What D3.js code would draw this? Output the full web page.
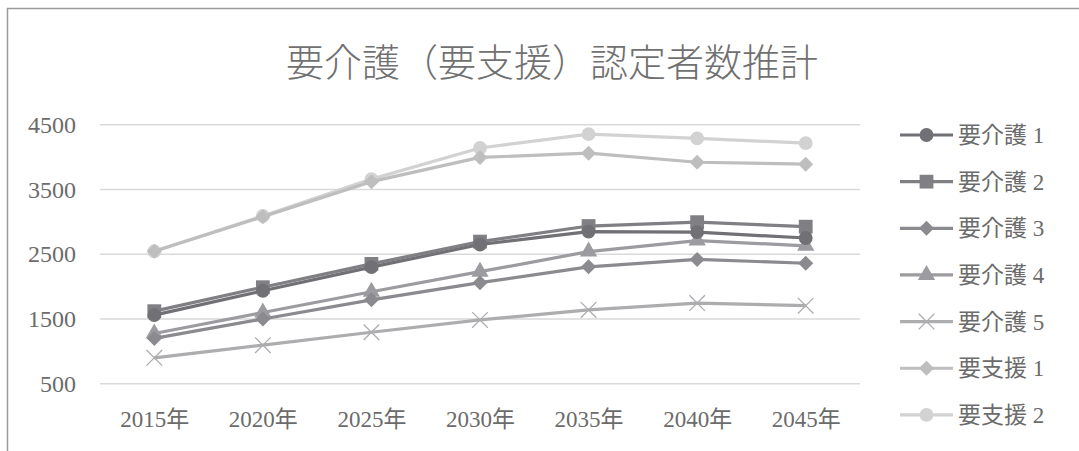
<!DOCTYPE html>
<html>
<head>
<meta charset="utf-8">
<script src="https://cdn.jsdelivr.net/npm/d3@7"></script>
<style>
  body { margin: 0; background: #fff; }
  svg text { font-family: 'Liberation Serif', 'DejaVu Serif', 'Noto Sans CJK JP', serif; fill: #6b6b6b; }
</style>
</head>
<body>
<div id="chart"></div>
<script>
var years = ['2015年', '2020年', '2025年', '2030年', '2035年', '2040年', '2045年']
var yTicks = [500, 1500, 2500, 3500, 4500]

var kaigo1 = [1560, 1935, 2300, 2650, 2850, 2840, 2750]
var kaigo2 = [1620, 1990, 2350, 2695, 2935, 2995, 2925]
var kaigo3 = [1200, 1500, 1795, 2060, 2305, 2420, 2360]
var kaigo4 = [1275, 1600, 1920, 2230, 2540, 2710, 2630]
var kaigo5 = [900, 1095, 1295, 1485, 1640, 1745, 1705]
var shien1 = [2545, 3080, 3620, 3995, 4060, 3920, 3890]
var shien2 = [2545, 3090, 3660, 4140, 4355, 4290, 4215]

var series = [
  { name: '要介護 1', values: kaigo1, color: '#717175', marker: 'circle' },
  { name: '要介護 2', values: kaigo2, color: '#808084', marker: 'square' },
  { name: '要介護 3', values: kaigo3, color: '#8b8b8f', marker: 'diamond' },
  { name: '要介護 4', values: kaigo4, color: '#9c9ca0', marker: 'triangle' },
  { name: '要介護 5', values: kaigo5, color: '#adadb0', marker: 'x' },
  { name: '要支援 1', values: shien1, color: '#bebebf', marker: 'diamond' },
  { name: '要支援 2', values: shien2, color: '#d2d2d2', marker: 'circle' }
]

var w = 1079
var h = 451

var svg = d3.select('#chart').append('svg')
  .attr('width', w)
  .attr('height', h)

// chart border
svg.append('path')
  .attr('d', 'M7.5,' + h + ' V8.5 H' + w)
  .attr('fill', 'none')
  .attr('stroke', '#9a9a9a')
  .attr('stroke-width', 1.5)

svg.append('text')
  .text('要介護（要支援）認定者数推計')
  .attr('x', 552)
  .attr('y', 63)
  .attr('dy', '0.35em')
  .attr('text-anchor', 'middle')
  .style('font-size', '38px')
  .style('font-weight', '300')
  .style('fill', '#707070')

var x = d3.scalePoint().domain(years).range([100, 860]).padding(0.5)
var y = d3.scaleLinear().domain([500, 4500]).range([383.7, 124.7])

// gridlines
svg.append('g')
  .selectAll('line')
  .data(yTicks)
  .enter().append('line')
  .attr('x1', 100)
  .attr('x2', 860)
  .attr('y1', function (d) { return y(d) })
  .attr('y2', function (d) { return y(d) })
  .attr('stroke', '#d9d9d9')
  .attr('stroke-width', 1.5)

var yAxis = svg.append('g')
  .attr('transform', 'translate(80,0)')
  .call(d3.axisLeft(y).tickValues(yTicks).tickFormat(d3.format('d')).tickSize(0).tickPadding(4))
yAxis.select('.domain').remove()
yAxis.selectAll('text').style('font-size', '24px').style('fill', '#6b6b6b')

var xAxis = svg.append('g')
  .attr('transform', 'translate(0,' + 407 + ')')
  .call(d3.axisBottom(x).tickSize(0).tickPadding(4))
xAxis.select('.domain').remove()
xAxis.selectAll('text').style('font-size', '23px').style('fill', '#6b6b6b')

var symbolType = {
  circle: d3.symbolCircle,
  square: d3.symbolSquare,
  triangle: d3.symbolTriangle,
  x: d3.symbolTimes
}
var symbolSize = { circle: 150, square: 190, triangle: 130, x: 160 }

function drawMarker (g, s) {
  if (s.marker === 'x') {
    g.append('path')
      .attr('d', d3.symbol().type(d3.symbolTimes).size(symbolSize.x)())
      .attr('fill', 'none')
      .attr('stroke', s.color)
      .attr('stroke-width', 1.3)
  } else if (s.marker === 'diamond') {
    var r = 7.5
    g.append('path')
      .attr('d', 'M0,' + (-r) + 'L' + r + ',0L0,' + r + 'L' + (-r) + ',0Z')
      .attr('fill', s.color)
  } else {
    g.append('path')
      .attr('d', d3.symbol().type(symbolType[s.marker]).size(symbolSize[s.marker])())
      .attr('fill', s.color)
  }
}

var line = d3.line()
  .x(function (d, i) { return x(years[i]) })
  .y(function (d) { return y(d) })

// draw lighter series first so darker sit on top
series.slice().reverse().forEach(function (s) {
  var g = svg.append('g')
  g.append('path')
    .datum(s.values)
    .attr('d', line)
    .attr('fill', 'none')
    .attr('stroke', s.color)
    .attr('stroke-width', 3.2)
    .attr('stroke-linejoin', 'round')
  s.values.forEach(function (v, i) {
    var m = g.append('g').attr('transform', 'translate(' + x(years[i]) + ',' + y(v) + ')')
    drawMarker(m, s)
  })
})

// legend
var legend = svg.append('g')
series.forEach(function (s, idx) {
  var ly = 135 + idx * 46.65
  var g = legend.append('g').attr('transform', 'translate(0,' + ly + ')')
  g.append('line')
    .attr('x1', 900)
    .attr('x2', 953)
    .attr('y1', 0)
    .attr('y2', 0)
    .attr('stroke', s.color)
    .attr('stroke-width', 3.2)
  var m = g.append('g').attr('transform', 'translate(926.5,0)')
  drawMarker(m, s)
  g.append('text')
    .text(s.name)
    .attr('x', 958)
    .attr('y', 0)
    .attr('dy', '0.35em')
    .style('font-size', '23px')
})
</script>
</body>
</html>
